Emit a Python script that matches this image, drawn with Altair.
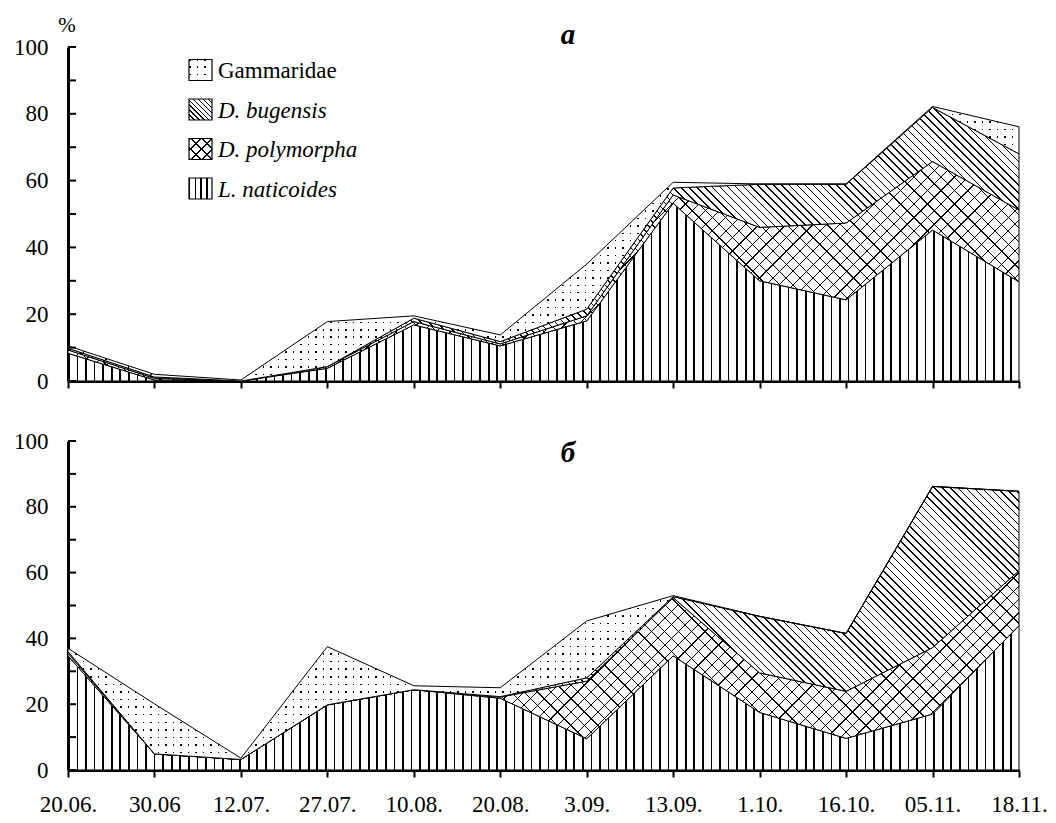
import math
import altair as alt
import pandas as pd

# ---------------- data ----------------
dates = ["20.06.", "30.06", "12.07.", "27.07.", "10.08.", "20.08.",
         "3.09.", "13.09.", "1.10.", "16.10.", "05.11.", "18.11."]
species = ["L. naticoides", "D. polymorpha", "D. bugensis", "Gammaridae"]

# panel а (%, per group, stacked bottom -> top)
a_L = [8.3, 0.3, 0.0, 3.8, 16.8, 10.5, 18.0, 53.2, 30.0, 24.3, 45.2, 29.7]
a_Dp = [1.0, 0.5, 0.0, 0.5, 1.0, 0.6, 1.5, 2.5, 16.0, 23.0, 20.5, 21.5]
a_Db = [0.5, 0.4, 0.0, 0.0, 1.0, 0.7, 2.0, 2.1, 12.9, 11.6, 16.2, 16.8]
a_G = [0.7, 0.8, 0.3, 13.5, 0.7, 2.0, 13.5, 1.7, 0.1, 0.1, 0.3, 8.1]

# panel б
b_L = [34.7, 4.9, 3.2, 19.8, 24.4, 21.8, 9.5, 34.7, 17.5, 9.6, 17.0, 43.9]
b_Dp = [0.8, 0.0, 0.0, 0.0, 0.0, 0.4, 17.5, 17.7, 12.0, 14.3, 20.2, 16.7]
b_Db = [0.5, 0.0, 0.0, 0.0, 0.0, 0.1, 1.0, 0.3, 17.2, 17.6, 49.0, 24.1]
b_G = [1.0, 15.2, 0.4, 17.7, 1.2, 2.7, 17.3, 0.3, 0.0, 0.0, 0.0, 0.0]

y_ticks = list(range(0, 101, 10))
y_labels = list(range(0, 101, 20))
legend_labels = ["Gammaridae", "D. bugensis", "D. polymorpha", "L. naticoides"]
panel_titles = ["а", "б"]

# ---------------- styling ----------------
W = 951
H_A = 334
H_B = 329
FONT = "Liberation Serif, Times New Roman, serif"
FS = 23
CLEAR = "rgba(255,255,255,0)"


def stripe_stops(n, frac, on, off):
    stops = []
    for k in range(n):
        a = round(k / n, 6)
        b = round((k + frac) / n, 6)
        stops += [alt.GradientStop(offset=a, color=off),
                  alt.GradientStop(offset=a, color=on),
                  alt.GradientStop(offset=b, color=on),
                  alt.GradientStop(offset=b, color=off)]
    stops.append(alt.GradientStop(offset=1, color=off))
    return stops


def g_vertical(w, spacing, lw, on="black", off="white"):
    n = max(1, round(w / spacing))
    return alt.LinearGradient(gradient="linear", stops=stripe_stops(n, lw / spacing, on, off),
                              x1=0, y1=0, x2=1, y2=0)


def g_horizontal(h, spacing, lw, on="black", off="white"):
    n = max(1, round(h / spacing))
    return alt.LinearGradient(gradient="linear", stops=stripe_stops(n, lw / spacing, on, off),
                              x1=0, y1=0, x2=0, y2=1)


def g_diag(w, h, spacing, lw, back, on="black", off="white"):
    c = (w + h) / (w * w + h * h)
    n = max(1, round((w + h) / math.sqrt(2) / spacing))
    if back:   # "\" lines
        x1, y1, x2, y2 = 0, 1, c * w, 1 - c * h
    else:      # "/" lines
        x1, y1, x2, y2 = 0, 0, c * w, c * h
    return alt.LinearGradient(gradient="linear", stops=stripe_stops(n, lw / spacing, on, off),
                              x1=x1, y1=y1, x2=x2, y2=y2)


def cum(*arrs):
    out = [0.0] * len(arrs[0])
    for a in arrs:
        out = [o + v for o, v in zip(out, a)]
    return out


def fills_for(w, h_l, h_dp, h_db, h_g):
    return {
        "L": [g_vertical(w, 8.6, 1.7)],
        "Dp": [g_diag(w, h_dp, 9.5, 0.9, back=False),
               g_diag(w, h_dp, 9.5, 0.9, back=True, off=CLEAR)],
        "Db": [g_diag(w, h_db, 5.6, 1.1, back=True)],
        "G": [g_horizontal(h_g, 7.5, 1.5),
              g_vertical(w, 7.5, 1.5, on=CLEAR, off="white")],
    }


one = pd.DataFrame({"k": [0]})


def panel(L, Dp, Db, G, H, show_labels, title, title_y, with_legend):
    rows = []
    for order, (sp, vals) in enumerate(zip(species, [L, Dp, Db, G])):
        for i, v in enumerate(vals):
            rows.append({"i": i, "species": sp, "order": order, "value": v})
    df = pd.DataFrame(rows)

    c1 = cum(L)
    c2 = cum(L, Dp)
    c3 = cum(L, Dp, Db)
    c4 = cum(L, Dp, Db, G)
    hpx = lambda bot, top: max(1.0, (max(top) - min(bot)) / 100 * H)
    fl = fills_for(W, hpx([0] * 12, c1), hpx(c1, c2), hpx(c2, c3), hpx(c3, c4))

    label_expr = "[" + ",".join("'%s'" % d for d in dates) + "][datum.value]"
    xaxis = alt.Axis(values=list(range(len(dates))), labelExpr=label_expr, labels=show_labels,
                     title=None, grid=False, domainWidth=3, tickWidth=2, tickSize=7,
                     labelPadding=16, labelFlush=False, labelOverlap=False)
    yaxis = alt.Axis(values=y_labels, title=None, grid=False, ticks=False, tickSize=0,
                     domainWidth=3, labelPadding=20, labelFlush=False)
    xs = alt.X("i:Q", scale=alt.Scale(domain=[0, len(dates) - 1], nice=False, zero=False), axis=xaxis)
    ysc = alt.Scale(domain=[0, 100], nice=False)

    base = alt.Chart(df).transform_stack(
        stack="value", groupby=["i"], as_=["y0", "y1"],
        sort=[alt.SortField("order", order="ascending")])

    def area(sp, fill, stroke):
        kw = dict(fill=fill, opacity=1, interpolate="linear")
        if stroke:
            kw.update(stroke="black", strokeWidth=1)
        else:
            kw.update(strokeWidth=0)
        return base.transform_filter(alt.datum.species == sp).mark_area(**kw).encode(
            x=xs, y=alt.Y("y1:Q", scale=ysc, axis=yaxis), y2="y0:Q")

    layers = [
        area("L. naticoides", fl["L"][0], True),
        area("D. polymorpha", fl["Dp"][0], False),
        area("D. polymorpha", fl["Dp"][1], True),
        area("D. bugensis", fl["Db"][0], True),
        area("Gammaridae", fl["G"][0], False),
        area("Gammaridae", fl["G"][1], True),
    ]

    ticks = alt.Chart(pd.DataFrame({"t": y_ticks})).mark_tick(
        orient="horizontal", color="black", thickness=2, size=8, opacity=1
    ).encode(y=alt.Y("t:Q", scale=ysc, axis=yaxis), x=alt.value(4))
    layers.append(ticks)

    layers.append(alt.Chart(one).mark_text(
        text=title, font=FONT, fontSize=29, fontStyle="italic", fontWeight="bold",
        align="center", baseline="alphabetic", color="black"
    ).encode(x=alt.value(500), y=alt.value(title_y)))

    if with_legend:
        layers.append(alt.Chart(one).mark_text(
            text="%", font=FONT, fontSize=21, align="center", baseline="alphabetic", color="black"
        ).encode(x=alt.value(-1), y=alt.value(-15)))
        sw = 23
        sh = 21
        sw_fills = {
            "Gammaridae": [g_horizontal(sh, 7, 1.5), g_vertical(sw, 7, 1.5, on=CLEAR, off="white")],
            "D. bugensis": [g_diag(sw, sh, 3.6, 1.0, back=True)],
            "D. polymorpha": [g_diag(sw, sh, 7, 1.0, back=False),
                              g_diag(sw, sh, 7, 1.0, back=True, off=CLEAR)],
            "L. naticoides": [g_vertical(sw, 6.5, 1.6)],
        }
        for r, lab in enumerate(legend_labels):
            cy = 23 + 39.5 * r
            fs = sw_fills[lab]
            for j, f in enumerate(fs):
                kw = dict(fill=f, opacity=1)
                if j == len(fs) - 1:
                    kw.update(stroke="black", strokeWidth=1.2)
                layers.append(alt.Chart(one).mark_rect(**kw).encode(
                    x=alt.value(121), x2=alt.value(121 + sw),
                    y=alt.value(cy - sh / 2), y2=alt.value(cy + sh / 2)))
            layers.append(alt.Chart(one).mark_text(
                text=lab, font=FONT, fontSize=FS,
                fontStyle="normal" if r == 0 else "italic",
                align="left", baseline="middle", color="black"
            ).encode(x=alt.value(150), y=alt.value(cy + 1)))

    return alt.layer(*layers).properties(width=W, height=H)


top = panel(a_L, a_Dp, a_Db, a_G, H_A, False, panel_titles[0], -3, True)
bottom = panel(b_L, b_Dp, b_Db, b_G, H_B, True, panel_titles[1], 21, False)

chart = alt.vconcat(top, bottom, spacing=37).properties(
    padding={"left": 5, "top": 7, "right": 0, "bottom": 0}
).configure_view(stroke=None).configure_axis(
    labelFont=FONT, labelFontSize=FS, labelColor="black",
    domainColor="black", tickColor="black"
)

chart.save("out.html", embed_options={"renderer": "svg", "actions": False})
